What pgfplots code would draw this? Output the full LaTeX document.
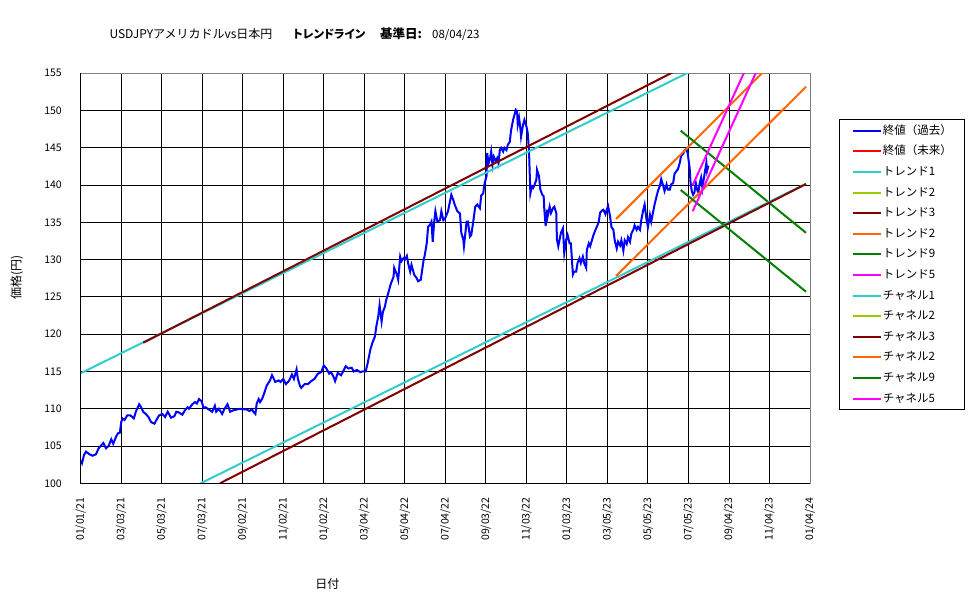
\documentclass[border=0pt]{standalone}
\usepackage{fontspec}
\setmainfont{Noto Sans CJK JP}
\newfontfamily\propjp[RawFeature=+palt]{Noto Sans CJK JP}
\usepackage{pgfplots}
\pgfplotsset{compat=1.18}

\definecolor{pastblue}{RGB}{0,0,255}
\definecolor{futurered}{RGB}{255,0,0}
\definecolor{trcyan}{RGB}{51,204,204}
\definecolor{trlime}{RGB}{153,204,0}
\definecolor{trmaroon}{RGB}{128,0,0}
\definecolor{trorange}{RGB}{255,102,0}
\definecolor{trgreen}{RGB}{0,128,0}
\definecolor{trmagenta}{RGB}{255,0,255}

% USD/JPY closes; x = days since 2021-01-01
\pgfplotstableread{
d v
0 103.1
2 102.7
5 103.8
8 104.25
13 103.9
18 103.7
23 103.9
27 104.7
31 105.1
34 105.4
38 104.7
42 105.0
46 105.9
49 105.3
53 106.2
56 106.7
59 106.8
61 108.2
63 108.7
66 108.5
70 109.1
75 109.1
80 108.7
83 109.6
88 110.6
91 110.2
94 109.6
98 109.3
102 108.9
106 108.2
111 108.0
114 108.5
118 109.1
123 109.3
127 108.9
131 109.6
136 108.8
141 109.0
144 109.6
148 109.5
153 109.2
157 109.8
161 110.2
163 110.0
168 110.6
172 110.9
175 110.7
178 111.3
182 111.0
185 110.1
188 110.2
193 109.9
198 109.6
202 110.4
204 109.6
208 110.0
213 109.3
216 109.9
221 110.6
225 109.6
230 109.8
235 109.9
240 110.0
245 109.9
250 109.9
254 109.7
258 109.9
260 109.6
263 109.3
265 110.7
268 111.3
270 110.9
273 111.3
276 112.0
280 113.1
285 113.8
288 114.5
293 113.6
298 113.8
301 113.6
305 114.0
309 113.3
314 113.8
318 114.6
321 114.0
325 115.3
327 114.0
330 113.1
332 112.8
337 113.3
342 113.3
347 113.7
352 114.0
357 114.7
362 114.9
366 115.8
370 115.4
374 114.7
377 114.9
381 114.2
383 113.7
387 114.8
392 114.5
395 115.0
399 115.7
403 115.4
408 115.5
411 115.0
416 115.2
421 114.9
424 115.0
429 115.0
432 116.1
436 117.9
439 118.8
443 119.7
445 121.0
448 122.4
450 123.9
453 121.7
455 123.0
458 123.7
460 124.6
463 125.5
467 126.8
471 127.7
472 128.9
476 128.0
478 127.3
481 130.4
483 129.8
486 130.2
488 130.0
491 130.5
493 129.5
496 128.4
498 129.3
502 128.0
506 127.5
508 127.1
512 127.3
516 129.8
518 130.6
521 132.2
523 134.4
526 134.7
528 135.1
530 132.4
532 134.9
534 136.5
537 135.1
541 135.3
543 136.5
546 135.3
549 135.6
553 136.5
558 138.7
561 138.0
563 137.4
567 136.5
571 136.2
573 133.6
576 132.7
577 131.8
581 135.1
583 135.1
586 133.1
588 133.3
591 135.1
594 137.1
597 137.4
601 136.9
603 138.6
606 138.9
608 140.2
611 141.2
612 144.3
614 142.9
616 143.4
618 144.5
620 142.7
622 143.8
625 143.2
627 143.6
629 142.9
631 144.7
633 145.0
636 144.5
638 145.0
641 144.7
643 145.4
646 145.8
648 147.4
651 148.75
653 149.4
655 150.1
657 149.9
658 148.1
660 149.0
662 147.6
663 146.5
666 148.1
668 148.75
671 147.9
673 147.0
675 144.5
676 141.6
677 138.9
679 139.8
681 139.6
683 140.0
686 140.7
687 142.05
690 141.2
692 139.4
695 138.7
697 138.5
698 136.7
700 134.5
702 136.7
703 135.8
706 137.1
708 136.25
711 136.9
713 137.1
716 136.25
717 132.7
719 131.8
721 132.7
723 133.6
726 134.2
728 130.9
731 132.7
733 133.3
736 132.2
738 132.2
741 128.0
743 128.4
746 128.4
748 129.55
751 130.2
753 129.55
756 130.4
758 129.55
761 128.9
762 131.3
765 132.2
767 131.8
770 132.7
772 133.3
775 134.0
778 134.6
780 135.1
782 136.3
785 136.6
787 136.7
790 136.1
792 136.7
794 137.2
797 135.8
799 134.4
802 134.0
804 132.6
807 131.5
809 132.4
812 131.9
814 132.6
817 131.2
819 132.6
822 132.1
824 133.0
827 132.4
829 133.5
832 134.0
834 134.6
837 134.0
839 134.4
842 134.0
844 135.3
847 136.7
849 137.4
852 135.3
854 134.4
857 136.0
859 135.1
862 136.5
864 137.4
867 138.5
869 139.2
872 139.9
874 140.8
877 139.9
879 139.2
882 140.1
884 139.4
887 139.4
889 140.1
892 140.3
894 141.5
897 141.9
899 142.1
902 143.0
904 143.95
907 144.2
909 144.6
912 144.9
914 144.2
917 142.1
918 140.5
920 139.2
922 138.7
924 139.0
926 140.3
928 139.4
930 139.0
932 140.3
934 141.0
936 139.6
938 140.8
940 141.9
942 143.0
943 141.9
945 142.6
}\closes

\begin{document}
\begin{tikzpicture}
\useasboundingbox (0pt,0pt) rectangle (975pt,599pt);

% title line
\node[anchor=base west, inner sep=0pt, font=\fontsize{12}{14}\selectfont] at (109.3pt,560pt) {USDJPYアメリカドルvs日本円};
\node[anchor=base west, inner sep=0pt, font=\propjp\fontsize{11.5}{14}\selectfont\bfseries] at (293pt,560pt) {トレンドライン};
\node[anchor=base west, inner sep=0pt, font=\fontsize{12.5}{14}\selectfont\bfseries] at (380pt,560pt) {基準日:};
\node[anchor=base west, inner sep=0pt, font=\fontsize{11.5}{13}\selectfont] at (432pt,560pt) {08/04/23};

\begin{axis}[
  at={(80.7pt,115.7pt)}, anchor=south west,
  scale only axis, width=729.3pt, height=410pt,
  xmin=0, xmax=1098, ymin=100, ymax=155,
  xtick={0,61,122,183,244,305,366,427,488,549,610,671,732,793,854,915,976,1037,1098},
  xticklabels={01/01/21,03/03/21,05/03/21,07/03/21,09/02/21,11/02/21,01/02/22,03/04/22,05/04/22,07/04/22,09/03/22,11/03/22,01/03/23,03/05/23,05/05/23,07/05/23,09/04/23,11/04/23,01/04/24},
  ytick={100,105,...,155},
  major tick length=0pt,
  grid=major,
  major grid style={black, line width=0.9pt},
  axis line style={draw=gray, line width=0.9pt},
  /pgf/number format/assume math mode=true,
  tick label style={font=\fontsize{10.5}{12}\selectfont},
  xticklabel style={rotate=90, anchor=east, inner sep=0pt},
  xticklabel shift=14pt,
  yticklabel style={anchor=east, inner sep=0pt},
  yticklabel shift=18.7pt,
  xlabel={日付},
  xlabel style={at={(axis description cs:0.3384,-0.2456)}, anchor=center, font=\fontsize{12}{14}\selectfont},
  ylabel={価格(円)},
  ylabel style={at={(axis description cs:-0.0878,0.503)}, anchor=center, rotate=0, font=\fontsize{12}{14}\selectfont},
  every axis plot/.append style={line width=2pt},
  legend image code/.code={\draw[#1, line width=2pt] (0pt,0pt) -- (28pt,0pt);},
  legend cell align=left,
  legend style={
    at={(axis description cs:1.0402,0.8878)}, anchor=north west,
    draw=black, line width=0.9pt,
    font=\fontsize{11.5}{13}\selectfont,
    inner xsep=12pt, inner ysep=4.5pt,
    row sep=7.6pt,
    nodes={inner xsep=1pt, inner ysep=0pt, text height=10pt, text depth=3pt},
  },
  after end axis/.code={
    \draw[black, line width=0.9pt] (rel axis cs:0,1) -- (rel axis cs:0,0) -- (rel axis cs:1,0);
  },
]
\addplot[pastblue] table[x=d, y=v] {\closes};
\addlegendentry{終値（過去）}
\addlegendimage{futurered}
\addlegendentry{終値（未来）}
\addplot[trcyan] coordinates {(0,114.76) (1092,162.92)};
\addlegendentry{トレンド1}
\addlegendimage{trlime}
\addlegendentry{トレンド2}
\addplot[trmaroon] coordinates {(94.3,118.86) (1092,164.26)};
\addlegendentry{トレンド3}
\addplot[trorange] coordinates {(806,135.45) (1092,160.9)};
\addlegendentry{トレンド2}
\addplot[trgreen] coordinates {(903.3,147.3) (1092,133.6)};
\addlegendentry{トレンド9}
\addplot[trmagenta] coordinates {(921.4,140.0) (1092,173.3)};
\addlegendentry{トレンド5}
\addplot[trcyan] coordinates {(180.7,100) (1092,140.19)};
\addlegendentry{チャネル1}
\addlegendimage{trlime}
\addlegendentry{チャネル2}
\addplot[trmaroon] coordinates {(209.7,100) (1092,140.15)};
\addlegendentry{チャネル3}
\addplot[trorange] coordinates {(806,127.8) (1092,153.2)};
\addlegendentry{チャネル2}
\addplot[trgreen] coordinates {(903.3,139.35) (1092,125.7)};
\addlegendentry{チャネル9}
\addplot[trmagenta] coordinates {(921.4,136.5) (1092,169.8)};
\addlegendentry{チャネル5}
\end{axis}
\end{tikzpicture}
\end{document}
